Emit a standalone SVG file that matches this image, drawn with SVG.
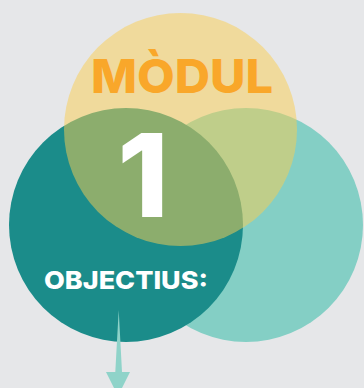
<svg xmlns="http://www.w3.org/2000/svg" width="364" height="388" viewBox="0 0 364 388">
<style>
.t{font-family:"Inter","Liberation Sans",Arial,sans-serif;font-weight:800;text-anchor:middle}
</style>
<rect width="364" height="388" fill="#e6e7e9"/>
<g id="circle-right"><circle cx="246" cy="225" r="117" fill="#84cfc5"/></g>
<g id="circle-left"><circle cx="126" cy="225" r="117" fill="#1b8c8a"/></g>
<g id="circle-top"><circle cx="180.5" cy="129.5" r="116.5" fill="#facd52" fill-opacity="0.51"/></g>
<g id="label-modul"><text class="t" x="182" y="93" font-size="47" fill="#f9a72a" textLength="182" lengthAdjust="spacingAndGlyphs">MÒDUL</text></g>
<g id="label-1"><text class="t" x="143" y="217" font-size="116" font-weight="900" fill="#ffffff">1</text></g>
<g id="label-objectius"><text class="t" x="126" y="289" font-size="25" fill="#ffffff" textLength="164" lengthAdjust="spacingAndGlyphs">OBJECTIUS:</text></g>
<g id="connectors"><polygon points="118.7,310 122,372 130,372 118,396 106,372 115.3,372" fill="#8fd3c9"/></g>
</svg>
